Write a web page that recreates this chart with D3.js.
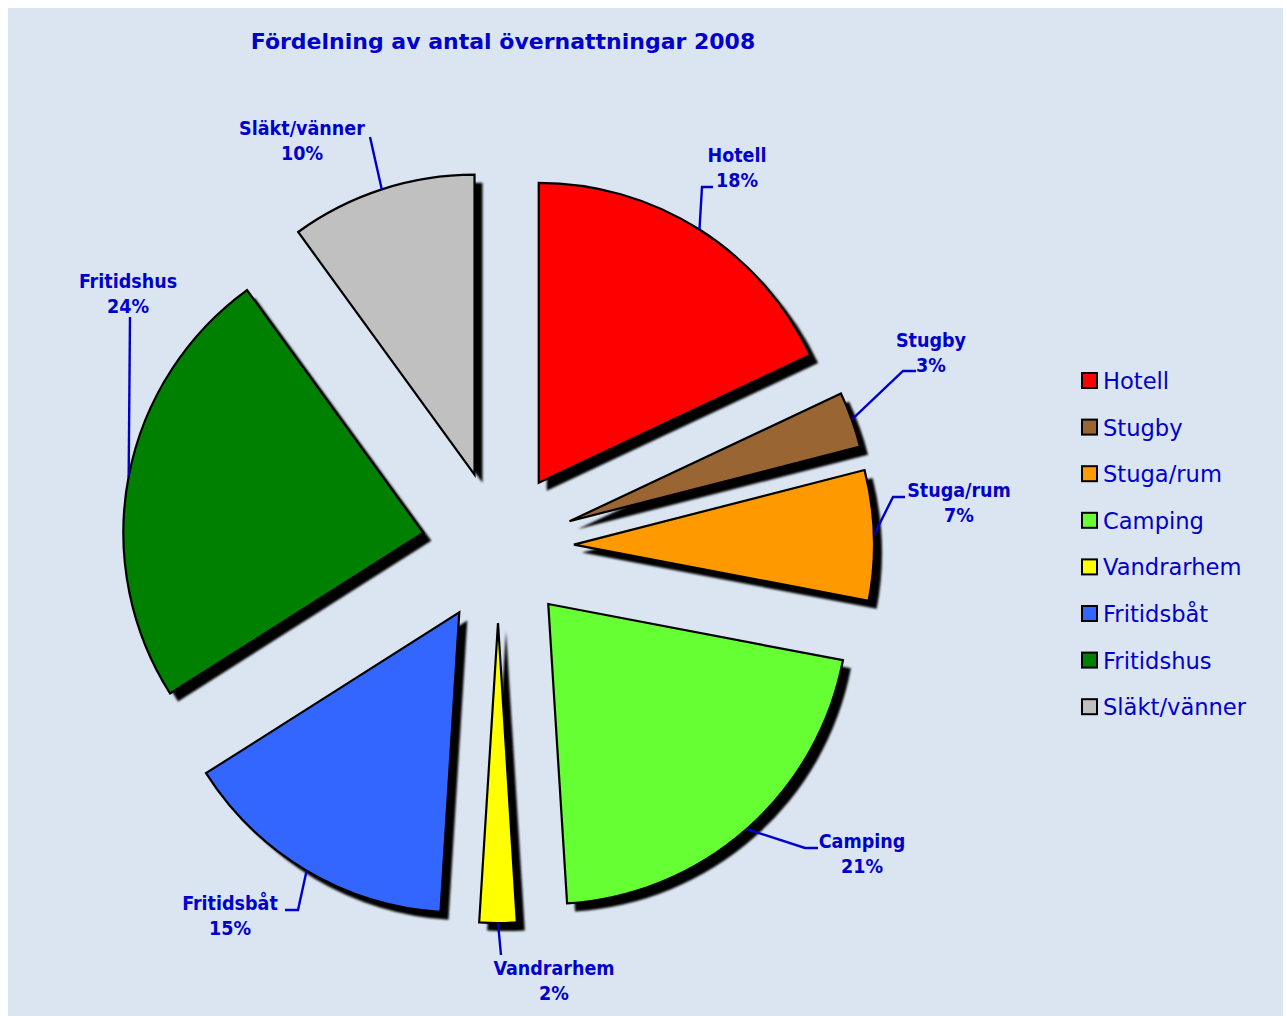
<!DOCTYPE html>
<html>
<head>
<meta charset="utf-8">
<script src="https://cdn.jsdelivr.net/npm/d3@7"></script>
<style>
  html, body { margin: 0; padding: 0; background: #ffffff; }
  svg { display: block; }
</style>
</head>
<body>
<div id="chart"></div>
<script>
// data
const categories = ["Hotell", "Stugby", "Stuga/rum", "Camping", "Vandrarhem", "Fritidsbåt", "Fritidshus", "Släkt/vänner"];
const shares = [18, 3, 7, 21, 2, 15, 24, 10];
const colors = ["#ff0000", "#996633", "#ff9900", "#66ff33", "#ffff00", "#3366ff", "#008000", "#c0c0c0"];
const title = "Fördelning av antal övernattningar 2008";

// label placement (text center x, first baseline y, elbow of the leader line, end of short tail)
const labelPos = [
  { x: 737, y: 162, elbow: [702, 187], tail: [713, 187] },
  { x: 931, y: 347, elbow: [903, 371], tail: [916, 371] },
  { x: 959, y: 497, elbow: [893, 497], tail: [905, 497] },
  { x: 862, y: 848, elbow: [805, 848], tail: [818, 848] },
  { x: 554, y: 975, elbow: [501, 955], tail: null },
  { x: 230, y: 910, elbow: [298, 910], tail: [285, 910] },
  { x: 128, y: 288, elbow: [130, 317], tail: null },
  { x: 302, y: 135, elbow: [370, 137], tail: null }
];

const W = 1287, H = 1016;
const textColor = "#0000cc";
const cx = 498, cy = 547, R = 300, explode = 76;

const svg = d3.select("#chart").append("svg")
  .attr("width", W).attr("height", H);

const defs = svg.append("defs");
const blur = defs.append("filter").attr("id", "soft")
  .attr("x", "-10%").attr("y", "-10%").attr("width", "120%").attr("height", "120%");
blur.append("feGaussianBlur").attr("stdDeviation", 1.1);

// plot background
svg.append("rect")
  .attr("x", 8).attr("y", 8)
  .attr("width", W - 12).attr("height", H - 8)
  .attr("fill", "#dbe5f1");

// title
svg.append("text")
  .attr("x", 503).attr("y", 49)
  .attr("text-anchor", "middle")
  .attr("font-family", "'DejaVu Sans'")
  .attr("font-weight", "bold")
  .attr("font-size", 22)
  .attr("fill", textColor)
  .text(title);

const pie = d3.pie().sort(null).value(d => d)
  .startAngle(0).endAngle(2 * Math.PI);
const arcs = pie(shares);
const arc = d3.arc().innerRadius(0).outerRadius(R);

// offset of each slice along its bisector
function shift(d) {
  const a = (d.startAngle + d.endAngle) / 2;
  return [cx + explode * Math.sin(a), cy - explode * Math.cos(a)];
}

const g = svg.append("g");

// shadows
g.selectAll("path.shadow")
  .data(arcs)
  .join("path")
  .attr("class", "shadow")
  .attr("d", arc)
  .attr("transform", d => {
    const [x, y] = shift(d);
    return `translate(${x + 8},${y + 8})`;
  })
  .attr("fill", "#000")
  .attr("filter", "url(#soft)");

// slices
g.selectAll("path.slice")
  .data(arcs)
  .join("path")
  .attr("class", "slice")
  .attr("d", arc)
  .attr("transform", d => {
    const [x, y] = shift(d);
    return `translate(${x},${y})`;
  })
  .attr("fill", (d, i) => colors[i])
  .attr("stroke", "#000")
  .attr("stroke-width", 2.2)
  .attr("stroke-linejoin", "miter");

// leader lines
const line = d3.line();
arcs.forEach((d, i) => {
  const a = (d.startAngle + d.endAngle) / 2;
  const [x, y] = shift(d);
  const anchor = [x + R * Math.sin(a), y - R * Math.cos(a)];
  const lp = labelPos[i];
  const pts = [anchor, lp.elbow];
  if (lp.tail) pts.push(lp.tail);
  svg.append("path")
    .attr("d", line(pts))
    .attr("fill", "none")
    .attr("stroke", textColor)
    .attr("stroke-width", 2.4);
});

// data labels
const labels = svg.append("g")
  .attr("font-family", "'DejaVu Sans Condensed', 'DejaVu Sans'")
  .attr("font-weight", "bold")
  .attr("font-size", 19.5)
  .attr("fill", textColor)
  .attr("text-anchor", "middle");

arcs.forEach((d, i) => {
  const t = labels.append("text").attr("x", labelPos[i].x).attr("y", labelPos[i].y);
  t.append("tspan").attr("x", labelPos[i].x).text(categories[i]);
  t.append("tspan").attr("x", labelPos[i].x).attr("dy", 24.5).text(shares[i] + "%");
});

// legend
const legend = svg.append("g").attr("transform", "translate(1082,381)");
const rowH = 46.6;
categories.forEach((c, i) => {
  const row = legend.append("g").attr("transform", `translate(0,${i * rowH})`);
  row.append("rect")
    .attr("x", 0).attr("y", -8)
    .attr("width", 15).attr("height", 15)
    .attr("fill", colors[i])
    .attr("stroke", "#000")
    .attr("stroke-width", 2);
  row.append("text")
    .attr("x", 21).attr("y", 8)
    .attr("font-family", "'DejaVu Sans'")
    .attr("font-size", 22.6)
    .attr("fill", textColor)
    .text(c);
});
</script>
</body>
</html>
